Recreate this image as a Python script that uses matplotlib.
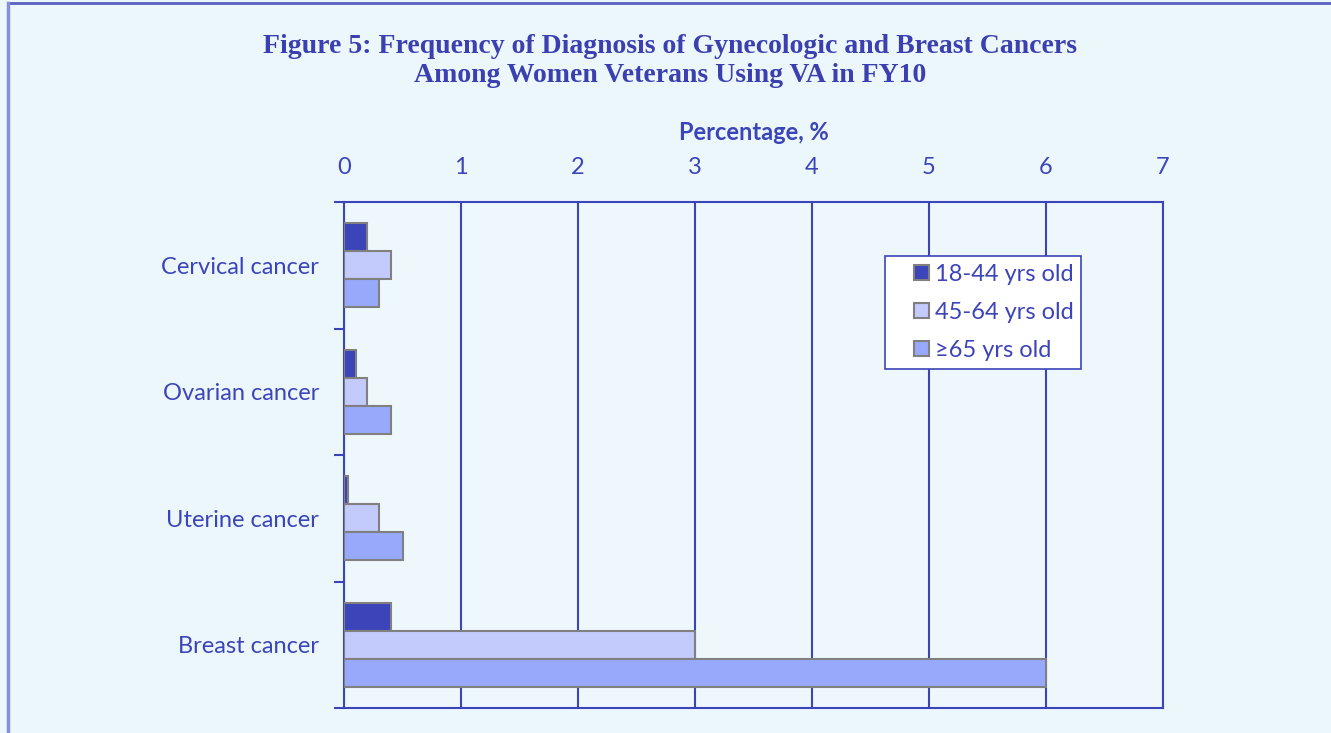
import matplotlib.pyplot as plt
import numpy as np
from matplotlib.lines import Line2D
from matplotlib.patches import Rectangle
from matplotlib.legend_handler import HandlerPatch

# dane
kategorie = ["Cervical cancer", "Ovarian cancer", "Uterine cancer", "Breast cancer"]
grupy = ["18-44 yrs old", "45-64 yrs old", "\u226565 yrs old"]
v_18_44 = [0.2, 0.1, 0.03, 0.4]
v_45_64 = [0.4, 0.2, 0.3, 3.0]
v_65 = [0.3, 0.4, 0.5, 6.0]
ticki_x = [0, 1, 2, 3, 4, 5, 6, 7]

niebieski = "#3B44B8"
kolory = ["#3B44B8", "#C3CAFC", "#98A9FC"]
tlo = "#ECF7FC"
czcionka = ["Lato", "DejaVu Sans"]


def kwadrat(legend, orig_handle, xdescent, ydescent, width, height, fontsize):
    # mały kwadrat przy prawej krawędzi pola znacznika
    bok = 10.8
    return Rectangle((width - bok - xdescent, (height - bok) / 2 - ydescent), bok, bok)


fig = plt.figure(figsize=(13.31, 7.33), dpi=100, facecolor=tlo)
ax = fig.add_axes([344 / 1331, 25 / 733, 819 / 1331, 506 / 733])
ax.set_facecolor("#EEF8FC")

# ramka wokół całego rysunku (widoczna góra i lewa krawędź)
fig.add_artist(Line2D([8 / 1331, 1.0], [1 - 3 / 733, 1 - 3 / 733], color="#5A5FC0", lw=2))
fig.add_artist(Line2D([8 / 1331, 8 / 1331], [0, 1 - 3 / 733], color="#8A8ED8", lw=2.5))

y = np.arange(len(kategorie))
h = 0.222
uchwyty = []
for i, (wartosci, kolor) in enumerate(zip([v_18_44, v_45_64, v_65], kolory)):
    slupki = ax.barh(y + (i - 1) * h, wartosci, height=h, color=kolor, edgecolor="#808080",
                     linewidth=1.5, zorder=3)
    uchwyty.append(slupki.patches[0])

ax.set_xlim(0, 7)
ax.set_ylim(3.5, -0.5)
ax.set_xticks(ticki_x)
ax.xaxis.tick_top()
ax.xaxis.set_label_position("top")
ax.set_xlabel("Percentage, %", fontsize=17, fontweight="bold", color=niebieski,
              family=czcionka, labelpad=12)
ax.grid(axis="x", color=niebieski, lw=1.5, zorder=1)

ax.set_yticks(y)
ax.set_yticklabels(kategorie)
ax.set_yticks(np.arange(-0.5, 4.0, 1.0), minor=True)
ax.tick_params(axis="y", which="major", length=0, pad=18)
ax.tick_params(axis="y", which="minor", length=7, width=1.5, color=niebieski)
ax.tick_params(axis="x", length=0, pad=17.5)
for lab in ax.get_xticklabels() + ax.get_yticklabels():
    lab.set_fontsize(17)
    lab.set_color(niebieski)
    lab.set_family(czcionka)

for s in ax.spines.values():
    s.set_color(niebieski)
    s.set_linewidth(1.5)

leg = ax.legend(uchwyty, grupy, loc="upper left",
                bbox_to_anchor=((885 - 344) / 819, (708 - 256) / 506),
                frameon=True, fancybox=False, edgecolor=niebieski,
                facecolor="white", framealpha=1, handlelength=1.53, handleheight=0.7,
                handletextpad=0.25, labelspacing=0.73, borderpad=0.32, borderaxespad=0,
                handler_map={r: HandlerPatch(patch_func=kwadrat) for r in uchwyty},
                prop={"family": czcionka, "size": 17})
for t in leg.get_texts():
    t.set_color(niebieski)
leg.get_frame().set_linewidth(1.2)

fig.text(670 / 1331, 1 - 61 / 733, "Figure 5: Frequency of Diagnosis of Gynecologic and Breast Cancers\n"
         "Among Women Veterans Using VA in FY10", ha="center", va="center",
         fontsize=20, fontweight="bold", color="#3B3FB0", family="Liberation Serif",
         linespacing=1.22)

fig.savefig("out.png", dpi=100, facecolor=tlo)
